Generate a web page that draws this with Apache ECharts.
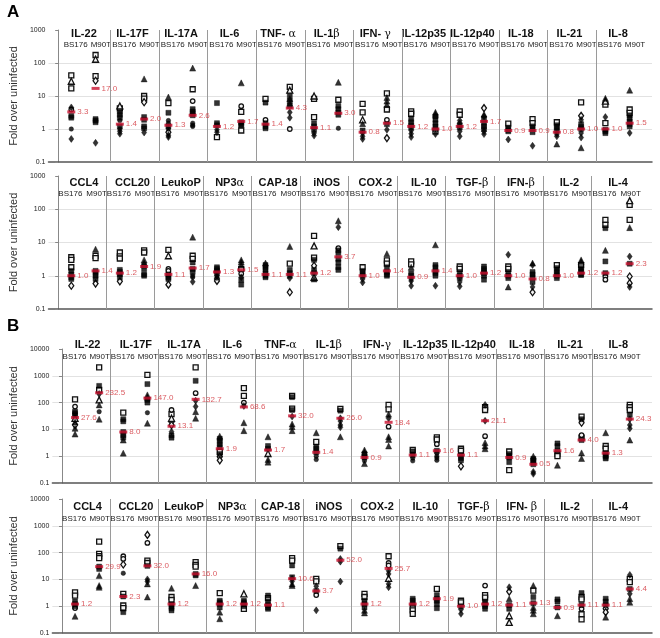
<!DOCTYPE html>
<html><head><meta charset="utf-8">
<script src="https://cdn.jsdelivr.net/npm/echarts@6/dist/echarts.min.js"></script>
<style>html,body{margin:0;padding:0;background:#fff}#c{width:660px;height:638px}</style>
</head><body><div id="c"></div>
<script>
const groups = ['BS176', 'M90T'];
const cytokinesA1 = ['IL-22','IL-17F','IL-17A','IL-6','TNF- α','IL-1β','IFN- γ','IL-12p35','IL-12p40','IL-18','IL-21','IL-8'];
const cytokinesA2 = ['CCL4','CCL20','LeukoP','NP3α','CAP-18','iNOS','COX-2','IL-10','TGF-β','IFN-β','IL-2','IL-4'];
const cytokinesB1 = ['IL-22','IL-17F','IL-17A','IL-6','TNF-α','IL-1β','IFN-γ','IL-12p35','IL-12p40','IL-18','IL-21','IL-8'];
const cytokinesB2 = ['CCL4','CCL20','LeukoP','NP3α','CAP-18','iNOS','COX-2','IL-10','TGF-β','IFN- β','IL-2','IL-4'];

// median (red marks) [BS176, M90T]
const medA1 = [[3.3,17.0],[1.4,2.0],[1.3,2.6],[1.2,1.7],[1.4,4.3],[1.1,3.0],[0.8,1.5],[1.2,1.0],[1.2,1.7],[0.9,0.9],[0.8,1.0],[1.0,1.5]];
const medA2 = [[1.0,1.4],[1.2,1.9],[1.1,1.7],[1.3,1.5],[1.1,1.1],[1.2,3.7],[1.0,1.4],[0.9,1.4],[1.0,1.2],[1.0,0.8],[1.0,1.2],[1.2,2.3]];
const medB1 = [[27.6,232.5],[8.0,147.0],[13.1,132.7],[1.9,68.6],[1.7,32.0],[1.4,26.0],[0.9,18.4],[1.1,1.6],[1.1,21.1],[0.9,0.5],[1.6,4.0],[1.3,24.3]];
const medB2 = [[1.2,29.9],[2.3,32.0],[1.2,16.0],[1.2,1.2],[1.1,10.6],[3.7,52.0],[1.2,25.7],[1.2,1.9],[1.0,1.2],[1.1,1.3],[0.9,1.1],[1.1,4.4]];

// individual points: code letter = marker (S/s square, D/d diamond, T/t triangle, C/c circle; lowercase = open)
const ptsA1_BS176 = [
 ['s42','t28','s17','D4.5','c3.9','S2.5','S2.2','C1.0','D0.5'],
 ['t5','s4.2','S3.3','S2.7','S2.2','C1.8','S1.2','C1.0','D0.85','D0.72'],
 ['T9.3','s6.1','S3.1','C1.8','C1.5','S1.2','C1.0','d0.8','D0.65','D0.57'],
 ['S6.1','S1.5','S1.3','D0.95','D0.8','s0.57'],
 ['s8.2','S6.3','c1.9','S1.5','S1.2','S1.05'],
 ['t10','s8.2','s2.3','S1.5','S1.2','S0.95','D0.75','D0.63'],
 ['s5.8','s3.2','t1.9','T1.45','S0.9','D0.75','D0.6','D0.5'],
 ['s3.4','s2.9','S2.0','S1.6','S1.3','S1.1','D0.9','D0.72','D0.57'],
 ['s3.4','s2.7','D1.8','D1.5','S1.3','S1.1','D0.85','D0.6'],
 ['s1.45','S1.1','S0.95','S0.85','D0.48'],
 ['s1.6','S1.3','S1.1','S0.9','D0.7','D0.6','T0.35'],
 ['T8.5','t7','s5.5','D2.3','s1.5','S0.95','S0.85','S0.75']
];
const ptsA1_M90T = [
 ['s175','t130','s40','d29','S2.0','S1.8','S1.6','D0.38'],
 ['T33','s10','s8.3','d6.5','S2.3','S1.9','S1.2','S1.05','D0.78'],
 ['T70','s16','c7','S4','S3.4','S3.0','S2.6','C1.5','C1.3','C1.2'],
 ['T25','c4.9','s3.3','S1.6','S1.4','S1.3','s0.9'],
 ['s19','t15','S10','T8.3','S7','T6','S5','D3.2','D2.2','c1.0'],
 ['T26','s7.7','S5','S4','S3.2','S2.7','C1.05'],
 ['s12','T9','T7','T5.5','s3.9','c1.9','S1.4','D0.95','d0.53'],
 ['T3.2','T2.8','S2.4','S1.9','S1.5','S1.2','S1.0','s0.85','D0.7'],
 ['d4.3','T2.8','D2.4','S2.0','S1.5','S1.2','S1.0','D0.85','D0.7'],
 ['s2.0','s1.5','S1.2','S1.0','S0.8','D0.31'],
 ['s6.4','d2.5','D1.9','S1.4','S1.15','S1.0','D0.75','D0.55','T0.27'],
 ['T15','s3.9','s3.1','S2.6','S2.1','S1.7','S1.4','S1.2','D0.76']
];
const ptsA2_BS176 = [
 ['s3.6','s3.0','s1.8','S1.4','S1.1','S0.9','S0.8','d0.5'],
 ['s5.0','s3.8','s3.3','S1.5','S1.3','S1.1','S0.9','d0.68'],
 ['s6','t4','c1.6','c1.4','S1.1','S0.9','S0.8','d0.54'],
 ['S1.8','S1.6','S1.4','S1.2','D1.0','D0.9','d0.8','d0.7'],
 ['T2.4','S2.1','S1.8','S1.5','S1.2','S1.0','S0.9'],
 ['s15.8','t7.9','s3.5','S3.0','d2.0','S1.5','S1.2','t0.9','T0.8'],
 ['s1.8','S1.4','S1.2','S1.0','D0.8','D0.63'],
 ['s2.7','s2.2','T1.8','S1.2','S1.0','D0.8','D0.7','D0.5'],
 ['s1.9','s1.6','S1.3','S1.0','S0.85','D0.65','D0.48'],
 ['D4.3','s1.9','s1.6','S1.3','S1.0','S0.85','T0.46'],
 ['s2.1','S1.7','S1.4','S1.2','S1.0','S0.85'],
 ['s48','s34','S27','T5.8','S2.7','S1.2','c0.95','c0.76']
];
const ptsA2_M90T = [
 ['T6.3','s4.0','s3.4','S1.4','S1.2','S1.0','S0.8','d0.58'],
 ['s5.8','s5','T3.0','T2.4','S2.0','S1.6','S1.1','S1.0'],
 ['T14.5','s4','s3.2','S2.5','S1.6','S1.3','C1.0','C0.9','D0.66'],
 ['T3.0','T2.6','T2.1','s1.6','c1.15','D0.9','S0.75','S0.54'],
 ['T7.6','s2.3','S1.5','S1.2','S1.0','D0.85','d0.32'],
 ['T45','D29','c6.8','S5.8','S4.8','S3.2','S2.5','S1.8','S1.5'],
 ['T4.6','s2.9','s2.3','S1.8','S1.3','S1.1','S1.0'],
 ['T8.5','S2.1','S1.8','S1.4','S1.2','S1.0','D0.5'],
 ['S1.9','S1.6','S1.35','S1.2','S1.0','S0.76'],
 ['T2.4','D2.1','S1.3','S1.1','S0.9','S0.65','D0.46','d0.32'],
 ['T3.0','T2.7','s2.1','S1.7','S1.5','S1.3','S1.1','S1.05'],
 ['t182','s135','s48','T28','D3.8','S2.3','d0.95','d0.6','D0.46']
];
const ptsB1_BS176 = [
 ['s133','c71','S46','S40','S34','t26','T19','d14.5','T11','T6.7'],
 ['s42','S24','S20','S8','S6.1','S4.9','T4.0','T1.3'],
 ['c53','s37','t26','d19','d14.5','D8.2','S6','S4.9'],
 ['T5.6','S4.5','S3.6','S2.8','S2.2','s1.45','S1.2','d0.95','d0.7'],
 ['T5.3','S2.4','S1.9','t1.26','T0.75','T0.6'],
 ['T7.5','s3.4','S2.2','S1.9','S1.4','C1.0','C0.75'],
 ['T1.7','T1.4','S1.2','S0.9','C0.67','T0.53'],
 ['s1.7','S1.5','S1.1','C0.85','C0.67'],
 ['s1.9','s1.6','S1.1','S0.85','S0.7','d0.42'],
 ['s1.5','S1.2','S1.0','S0.9','S0.6','s0.3'],
 ['S3.0','S2.4','S1.6','s1.2','s1.0','T0.46'],
 ['T7.5','s2.4','s1.9','S1.3','S1.05','S0.95','S0.82']
];
const ptsB1_M90T = [
 ['s2050','S420','s300','D210','t126','T82','C46','T24'],
 ['s1080','S490','T194','T160','S126','S100','C42','T17'],
 ['s2050','S650','c225','D118','D71','T46','T26'],
 ['s345','s178','c100','D75','T17.8','T9'],
 ['s178','S160','s60','S53','D30','T15.8','T12.6','T9'],
 ['s58','S50','D26','D20.5','D14.5','D12','T5.3'],
 ['s82','s56','T37','D26','c12.6','T5.3','T4.2','T2.4'],
 ['s5.0','s4.2','c2.8','S1.6','C1.3','C1.0','C0.85','C0.7'],
 ['D82','s67','s53','D21','c5.6','T3.2','T2.4','T1.9'],
 ['T1.0','S0.8','S0.7','S0.6','S0.5','D0.26','D0.22'],
 ['s30','S24','d17.8','c6.1','s4.9','S4.0','T1.33','T0.82'],
 ['s82','s67','s53','S35','D24','D14.5','D10.9','T4.0']
];
const ptsB2_BS176 = [
 ['s3.3','s2.5','S1.5','S1.2','S1.0','c0.85','T0.42'],
 ['c73','c58','d36','C17','s2.9','S2.3','s1.06','s0.85','S0.6'],
 ['T4.7','s2.2','s1.7','S1.2','S1.0','S0.85','S0.7'],
 ['s3.1','S1.6','S1.4','S1.2','S0.9','T0.6','T0.34'],
 ['S2.5','s2.0','S1.5','S1.1','S0.9','S0.8'],
 ['s10.5','s8.5','D5.6','S3.7','c2.6','D0.7'],
 ['s2.9','s2.2','S1.6','S1.2','S0.9','T0.7','T0.56'],
 ['S1.9','S1.6','S1.2','s0.9','s0.7','s0.52'],
 ['s1.6','s1.4','S1.0','D0.75','D0.52'],
 ['D5.1','d3.5','T1.9','S1.1','S0.8','t0.44','t0.25'],
 ['S1.8','S1.5','S0.9','T0.44'],
 ['S1.9','S1.5','S1.1','d0.8','d0.6','T0.39']
];
const ptsB2_M90T = [
 ['s257','s89','s73','s62','S30','S24.6','T13.9','T5.9','T5.1'],
 ['d457','c230','s50','s41','S32','D10','D8.3','T6.8','T2.2'],
 ['s44','s35','s30','S16','S14','T5.9'],
 ['t2.9','S1.6','S1.4','S1.2','S1.0','s0.8'],
 ['s62','s50','S33','S12','D10.6','D8.5','T6.8','T5.9'],
 ['s175','S140','D58','D46','D8.3'],
 ['s73','c41','c33','D21','D16','t11','D6.8','D5.1'],
 ['s4.4','S2.6','S1.9','S1.6','S1.2','S0.84'],
 ['c5.9','s2.6','s2.1','S1.5','S1.2','S1.0','S0.8'],
 ['T5.9','s3.8','S2.2','S1.3','T0.9','T0.7','T0.52'],
 ['S3.1','s2.2','s1.8','S1.1','c0.8','s0.5','s0.32'],
 ['D14.7','s10.5','s7.9','S4.4','D2.9','T1.9','T1.4']
];

const FONT = 'Liberation Sans, Arial, Helvetica, sans-serif';
const shapeDefs = {
  S: {symbol: 'rect', size: 5, fill: true},
  s: {symbol: 'rect', size: 5, fill: false},
  D: {symbol: 'diamond', size: [5, 7], fill: true},
  d: {symbol: 'diamond', size: [5, 7], fill: false},
  T: {symbol: 'triangle', size: 6, fill: true},
  t: {symbol: 'triangle', size: 6, fill: false},
  C: {symbol: 'circle', size: 4.5, fill: true},
  c: {symbol: 'circle', size: 4.5, fill: false}
};

const panels = [
  {cats: cytokinesA1, bs: ptsA1_BS176, m: ptsA1_M90T, med: medA1, top: 30, height: 132, max: 1000, sep: 0.08, lbl: [0.36, 0.88], hdrY: 4, lblY: 14.5},
  {cats: cytokinesA2, bs: ptsA2_BS176, m: ptsA2_M90T, med: medA2, top: 176, height: 133, max: 1000, sep: -0.02, lbl: [0.25, 0.79], hdrY: 7, lblY: 18},
  {cats: cytokinesB1, bs: ptsB1_BS176, m: ptsB1_M90T, med: medB1, top: 349, height: 134, max: 10000, sep: 0, lbl: [0.26, 0.78], hdrY: -4, lblY: 8},
  {cats: cytokinesB2, bs: ptsB2_BS176, m: ptsB2_M90T, med: medB2, top: 499, height: 134, max: 10000, sep: 0, lbl: [0.25, 0.78], hdrY: 8, lblY: 20}
];
const XMIN = -0.2, XMAX = 12.23, PT_OFF = [0.27, 0.77], HDR_OFF = 0.53;

function greek(name) { return name.replace(/([α-ω])/g, '{g|$1}'); }

const grid = [], xAxis = [], yAxis = [], series = [];
panels.forEach((P, p) => {
  grid.push({left: 34, right: 8, top: P.top, height: P.height});
  const n = P.cats.length;
  xAxis.push({gridIndex: p, type: 'value', min: XMIN, max: XMAX, position: 'bottom',
    axisLine: {show: true, onZero: false, lineStyle: {color: '#555', width: 1.5}},
    axisTick: {show: false}, axisLabel: {show: false}, splitLine: {show: false}});
  xAxis.push({gridIndex: p, type: 'value', min: XMIN, max: XMAX, position: 'top',
    axisLine: {show: false}, axisTick: {show: false}, splitLine: {show: false},
    axisLabel: {show: true, inside: true, margin: P.hdrY, verticalAlign: 'middle',
      customValues: P.cats.map((c, i) => i + HDR_OFF),
      formatter: v => greek(P.cats[Math.floor(v)]),
      fontFamily: FONT, fontSize: 11, fontWeight: 'bold', color: '#111',
      rich: {g: {fontFamily: 'DejaVu Serif, serif', fontWeight: 'normal', fontSize: 11, color: '#111'}}}});
  const lv = [];
  for (let i = 0; i < n; i++) { lv.push(i + P.lbl[0], i + P.lbl[1]); }
  xAxis.push({gridIndex: p, type: 'value', min: XMIN, max: XMAX, position: 'top',
    axisLine: {show: false}, axisTick: {show: false}, splitLine: {show: false},
    axisLabel: {show: true, inside: true, margin: P.lblY, verticalAlign: 'middle',
      customValues: lv,
      formatter: v => (v - Math.floor(v) < 0.5 ? groups[0] : groups[1]),
      fontFamily: FONT, fontSize: 8, color: '#222'}});
  yAxis.push({gridIndex: p, type: 'log', logBase: 10, min: 0.1, max: P.max,
    name: 'Fold over uninfected', nameLocation: 'middle', nameGap: 23,
    nameTextStyle: {fontFamily: FONT, fontSize: 11, color: '#333'},
    axisLine: {show: true, lineStyle: {color: '#888', width: 1}},
    axisTick: {show: true, length: 3, lineStyle: {color: '#888'}},
    axisLabel: {fontFamily: FONT, fontSize: 7, color: '#222', margin: 3,
      formatter: v => String(+Number(v).toPrecision(2))},
    splitLine: {show: true, showMaxLine: false, showMinLine: false, lineStyle: {color: '#e2e2e2', width: 1}}});

  const byCode = {};
  [P.bs, P.m].forEach((lists, g) => lists.forEach((list, i) => list.forEach(s => {
    const code = s[0], v = parseFloat(s.slice(1));
    (byCode[code] = byCode[code] || []).push([i + PT_OFF[g], v]);
  })));
  Object.keys(shapeDefs).forEach(code => {
    if (!byCode[code]) return;
    const d = shapeDefs[code];
    series.push({type: 'scatter', xAxisIndex: p * 3, yAxisIndex: p, data: byCode[code],
      symbol: d.symbol, symbolSize: d.size, silent: true, z: d.fill ? 3 : 2,
      itemStyle: d.fill ? {color: '#000', borderColor: '#000', borderWidth: 0.5}
                        : {color: '#f4f4f4', borderColor: '#111', borderWidth: 1.3, opacity: 1}});
  });
  const md = [];
  P.med.forEach((pair, i) => pair.forEach((v, g) => md.push([i + PT_OFF[g], v])));
  const seps = [];
  for (let i = 1; i < n; i++) seps.push({xAxis: i + P.sep});
  series.push({type: 'scatter', xAxisIndex: p * 3, yAxisIndex: p, data: md, z: 6, silent: true,
    symbol: 'rect', symbolSize: [8, 3], itemStyle: {color: '#c8102e'},
    label: {show: true, position: 'right', distance: 2, formatter: d => d.value[1].toFixed(1),
      color: '#d2323a', fontSize: 8, fontFamily: FONT},
    markLine: {silent: true, symbol: ['none', 'none'], label: {show: false}, animation: false,
      lineStyle: {color: '#9a9a9a', width: 1, type: 'solid'}, emphasis: {disabled: true},
      data: seps}});
});

const chart = echarts.init(document.getElementById('c'), null, {renderer: 'canvas'});
chart.setOption({
  animation: false,
  backgroundColor: '#fff',
  title: [
    {text: 'A', left: 2, top: -1, textStyle: {fontFamily: FONT, fontSize: 17, fontWeight: 'bold', color: '#000'}},
    {text: 'B', left: 2, top: 313, textStyle: {fontFamily: FONT, fontSize: 17, fontWeight: 'bold', color: '#000'}}
  ],
  grid, xAxis, yAxis, series
});
</script></body></html>
